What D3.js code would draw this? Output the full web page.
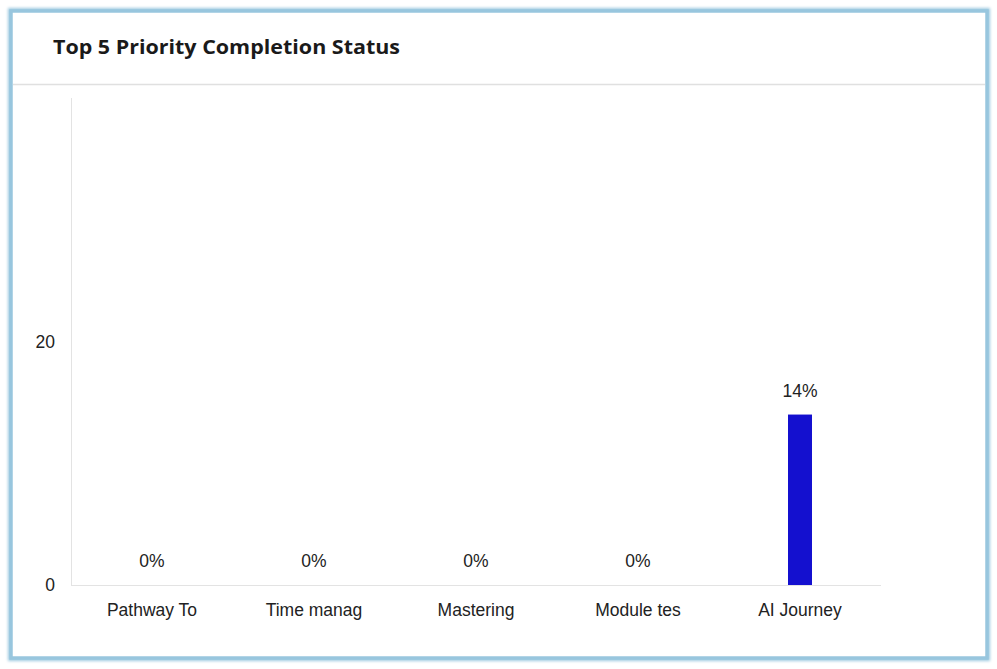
<!DOCTYPE html>
<html><head><meta charset="utf-8">
<script src="https://cdn.jsdelivr.net/npm/d3@7/dist/d3.min.js"></script>
<style>
html,body{margin:0;padding:0;background:#fff;}
svg{display:block;}
</style></head>
<body>
<svg id="c" width="997" height="669"></svg>
<script>
const title = "Top 5 Priority Completion Status";
const categories = ["Pathway To", "Time manag", "Mastering", "Module tes", "AI Journey"];
const values = [0, 0, 0, 0, 14];
const yTicks = [0, 20];
const yMax = 40;

const svg = d3.select("#c");
const defs = svg.append("defs");
const f = defs.append("filter").attr("id","blur").attr("x","-5%").attr("y","-5%").attr("width","110%").attr("height","110%");
f.append("feGaussianBlur").attr("stdDeviation", 1.8);

// card frame
svg.append("rect").attr("x", 11).attr("y", 11).attr("width", 976).attr("height", 647)
  .attr("fill", "none").attr("stroke", "#9cc9e0").attr("stroke-width", 6).attr("filter","url(#blur)");
svg.append("rect").attr("x", 11).attr("y", 11).attr("width", 976).attr("height", 647)
  .attr("fill", "#fff").attr("stroke", "#98c6de").attr("stroke-width", 3.5);

svg.append("text").attr("x", 53).attr("y", 54).text(title)
  .attr("font-family", "'Open Sans', 'Noto Sans', sans-serif").attr("font-weight", 700)
  .attr("font-size", 19.5).attr("fill", "#1a1a1a")
  .attr("textLength", 347).attr("lengthAdjust", "spacingAndGlyphs");
svg.append("line").attr("x1", 13).attr("x2", 985).attr("y1", 84.5).attr("y2", 84.5)
  .attr("stroke", "#e0e0e0").attr("stroke-width", 1.5);

const x = d3.scaleBand().domain(categories).range([71, 881]);
const y = d3.scaleLinear().domain([0, yMax]).range([585, 98]);

const g = svg.append("g").attr("font-family", "'Liberation Sans', Arial, sans-serif");

// axis lines
g.append("line").attr("x1", 71.5).attr("x2", 71.5).attr("y1", y(yMax)).attr("y2", y(0))
  .attr("stroke", "#e3e3e3").attr("stroke-width", 1);
g.append("line").attr("x1", 71).attr("x2", 881).attr("y1", y(0)+0.5).attr("y2", y(0)+0.5)
  .attr("stroke", "#e3e3e3").attr("stroke-width", 1);

const fs = 17.5;
// y ticks
g.selectAll(".yt").data(yTicks).join("text").attr("class","yt")
  .attr("x", 55).attr("y", d => y(d) + 6).attr("text-anchor", "end")
  .attr("font-size", fs).attr("fill", "#222").text(d => d);

// x labels
g.selectAll(".xl").data(categories).join("text").attr("class","xl")
  .attr("x", d => x(d) + x.bandwidth()/2).attr("y", 616).attr("text-anchor", "middle")
  .attr("font-size", fs).attr("fill", "#222").text(d => d);

// bars
const bw = 24;
g.selectAll(".bar").data(values).join("rect").attr("class","bar")
  .attr("x", (d,i) => x(categories[i]) + x.bandwidth()/2 - bw/2)
  .attr("width", bw)
  .attr("y", d => y(d)).attr("height", d => y(0) - y(d))
  .attr("fill", "#1410cf");

// value labels
g.selectAll(".vl").data(values).join("text").attr("class","vl")
  .attr("x", (d,i) => x(categories[i]) + x.bandwidth()/2)
  .attr("y", d => y(d) - 18).attr("text-anchor", "middle")
  .attr("font-size", fs).attr("fill", "#222").text(d => d + "%");
</script>
</body></html>
